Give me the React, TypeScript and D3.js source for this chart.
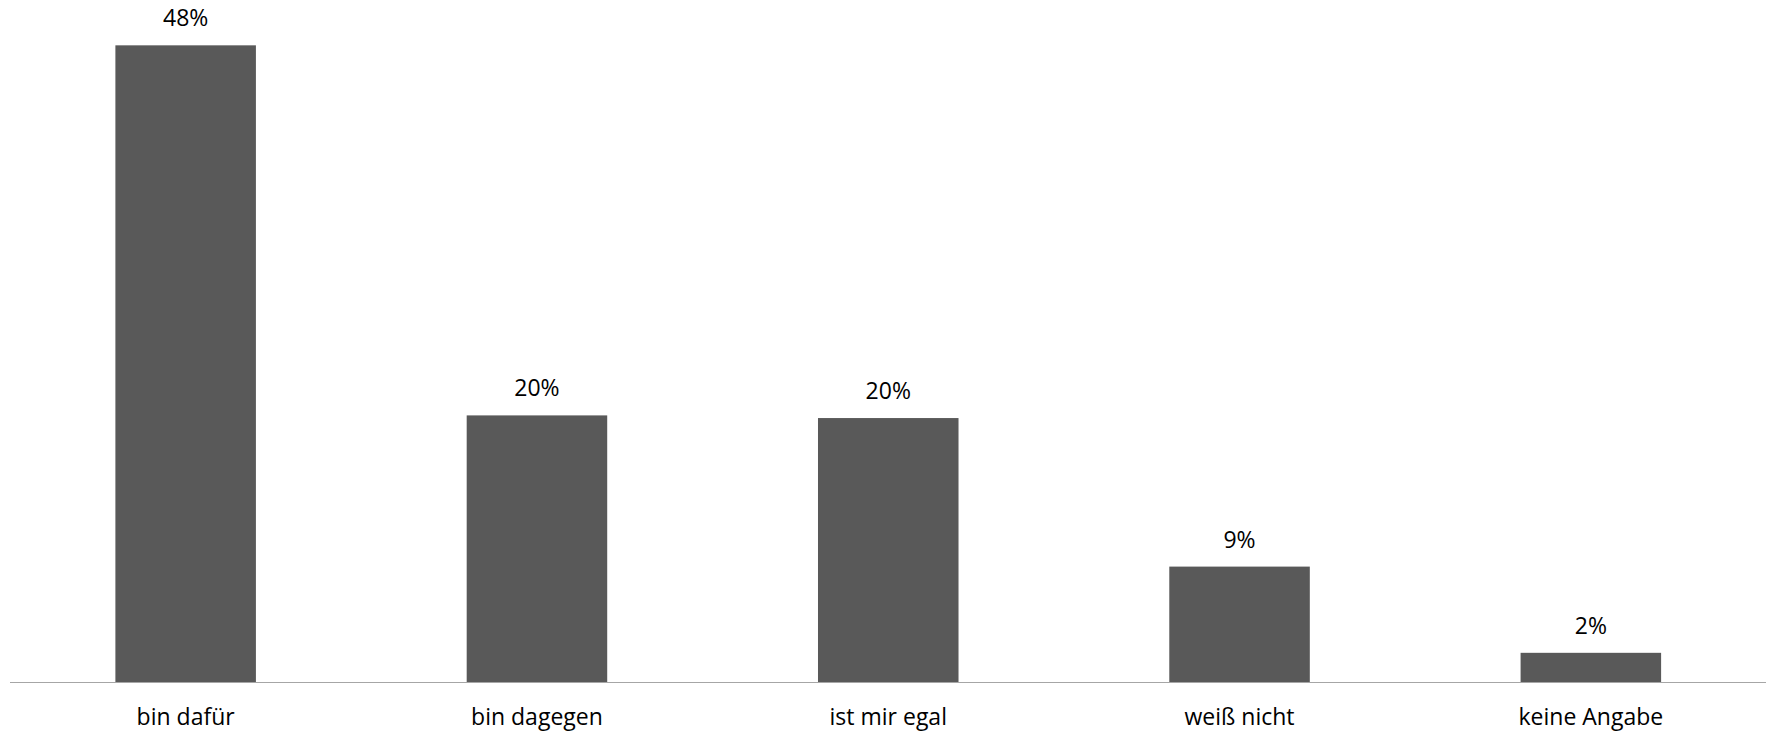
import React from "react";
import * as d3 from "d3";

const categories = ["bin dafür", "bin dagegen", "ist mir egal", "weiß nicht", "keine Angabe"];
const values = [48.0, 20.1, 19.9, 8.7, 2.2];
const labels = ["48%", "20%", "20%", "9%", "2%"];

const W = 1771;
const H = 731;

export default function App() {
  const x = d3.scaleBand<string>().domain(categories).range([10, 1766.5]).paddingInner(0.6).paddingOuter(0.3);
  const y = d3.scaleLinear().domain([0, 50]).range([682, 18.8]);
  const font = "'Open Sans', sans-serif";
  return (
    <svg width={W} height={H} style={{ position: "absolute", left: 0, top: 0 }}>
      <rect width={W} height={H} fill="#ffffff" />
      {categories.map((c, i) => (
        <g key={c}>
          <rect x={x(c)} y={y(values[i])} width={x.bandwidth()} height={y(0) - y(values[i])} fill="#595959" />
          <text x={(x(c) as number) + x.bandwidth() / 2} y={y(values[i]) - 19} textAnchor="middle" fontFamily={font} fontSize={23} fill="#000">
            {labels[i]}
          </text>
          <text x={(x(c) as number) + x.bandwidth() / 2} y={725} textAnchor="middle" fontFamily={font} fontSize={23} fill="#000">
            {c}
          </text>
        </g>
      ))}
      <line x1={10} x2={1766} y1={682.5} y2={682.5} stroke="#a6a6a6" strokeWidth={1.2} />
    </svg>
  );
}
